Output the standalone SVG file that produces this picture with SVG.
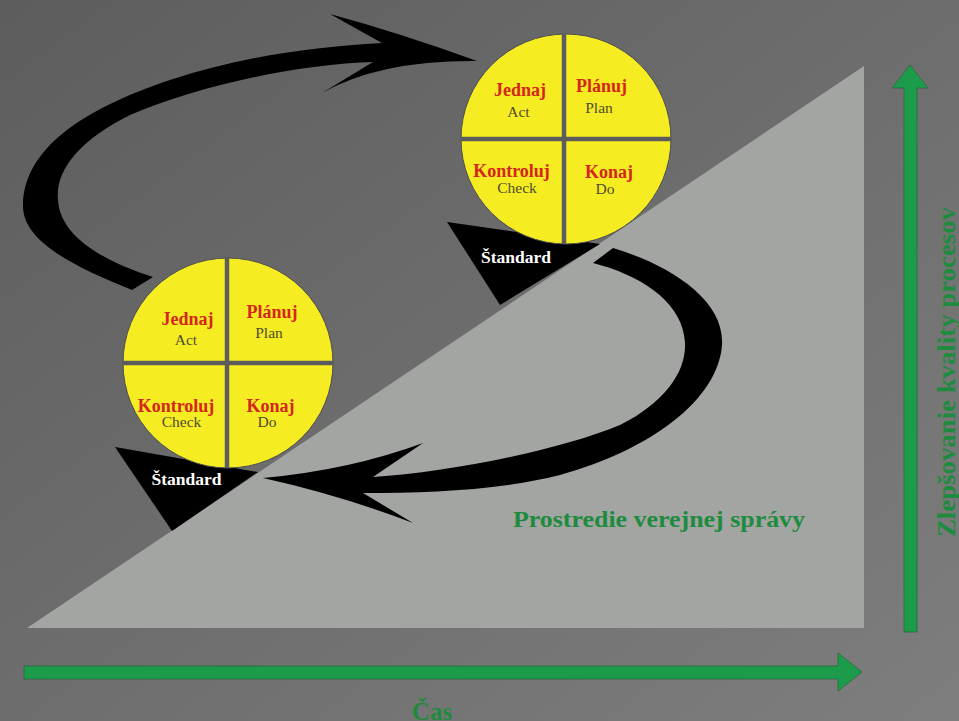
<svg xmlns="http://www.w3.org/2000/svg" width="959" height="721" viewBox="0 0 959 721">
<defs>
<linearGradient id="bg" x1="0" y1="0" x2="1" y2="1">
<stop offset="0" stop-color="#5d5d5d"/>
<stop offset="1" stop-color="#7e7e7e"/>
</linearGradient>
<style>
.pdca{fill:#f6ec22;stroke:#4e4e4e;stroke-width:1}
.div{stroke:#5c5c5c;stroke-width:4.5;fill:none}
.red{font-family:"Liberation Serif",serif;font-weight:bold;font-size:18px;fill:#d4261c;text-anchor:middle}
.en{font-family:"Liberation Serif",serif;font-size:15.5px;fill:#4f4d30;text-anchor:middle}
.std{font-family:"Liberation Serif",serif;font-weight:bold;font-size:17.5px;fill:#ffffff;text-anchor:middle}
.grn{font-family:"Liberation Serif",serif;font-weight:bold;fill:#1e8b3e}
.axis{fill:#1c9b4a;stroke:#2b6b3c;stroke-width:0.8}
.conn{fill:#000000}
</style>
</defs>
<rect x="0" y="0" width="959" height="721" fill="url(#bg)"/>

<g id="environment">
<polygon points="27,628 864,66 864,628" fill="#a2a5a2"/>
<text class="grn" x="513" y="527" font-size="23" textLength="292" lengthAdjust="spacingAndGlyphs">Prostredie verejnej správy</text>
</g>

<g id="standard-upper">
<polygon points="447,222 600,244 500,305" fill="#000000"/>
<text class="std" x="516" y="263">Štandard</text>
</g>
<g id="standard-lower">
<polygon points="115,447 258,472 172,531" fill="#000000"/>
<text class="std" x="186.5" y="485">Štandard</text>
</g>

<g id="pdca-upper">
<circle class="pdca" cx="566" cy="139" r="105"/>
<line class="div" x1="564" y1="34" x2="564" y2="244"/>
<line class="div" x1="461" y1="139" x2="671" y2="139"/>
<text class="red" x="520" y="96">Jednaj</text>
<text class="en" x="518.5" y="117">Act</text>
<text class="red" x="601.5" y="92">Plánuj</text>
<text class="en" x="599" y="113">Plan</text>
<text class="red" x="511.5" y="176.5">Kontroluj</text>
<text class="en" x="517" y="192.5">Check</text>
<text class="red" x="609" y="177.5">Konaj</text>
<text class="en" x="605" y="194">Do</text>
</g>

<g id="pdca-lower">
<circle class="pdca" cx="228" cy="363" r="105"/>
<line class="div" x1="227" y1="258" x2="227" y2="468"/>
<line class="div" x1="123" y1="363" x2="333" y2="363"/>
<text class="red" x="187.5" y="325">Jednaj</text>
<text class="en" x="186" y="345">Act</text>
<text class="red" x="272" y="318">Plánuj</text>
<text class="en" x="269" y="338">Plan</text>
<text class="red" x="176" y="412">Kontroluj</text>
<text class="en" x="181.5" y="427">Check</text>
<text class="red" x="270.5" y="412">Konaj</text>
<text class="en" x="267" y="427">Do</text>
</g>

<g id="connectors">
<path class="conn" d="M132,290 C70,265 22,240 23,205 C24,150 80,110 170,80 C240,57 310,47 382,43 L330,14 Q400,33 477,61 Q380,60 322,93 L373,62 C300,64 200,85 130,115 C80,140 55,170 58,200 C60,235 100,260 153,277 Z"/>
<path class="conn" d="M613,248 C670,265 725,300 722,345 C718,400 650,450 560,475 C500,490 430,493 363,493 L413,523 Q340,495 263,478 Q350,470 423,443 L373,477 C450,472 560,450 620,425 C670,400 690,365 684,335 C678,300 640,275 593,263 Z"/>
</g>

<g id="axis-time">
<polygon class="axis" points="24,666 838,666 838,653 862,672 838,691 838,679 24,679"/>
<text class="grn" x="432" y="720" font-size="25" text-anchor="middle">Čas</text>
</g>
<g id="axis-quality">
<polygon class="axis" points="904,632 904,88 892,88 910,65 928,88 917,88 917,632"/>
<text class="grn" font-size="26" transform="translate(955,537) rotate(-90)" textLength="330" lengthAdjust="spacingAndGlyphs">Zlepšovanie kvality procesov</text>
</g>
</svg>
